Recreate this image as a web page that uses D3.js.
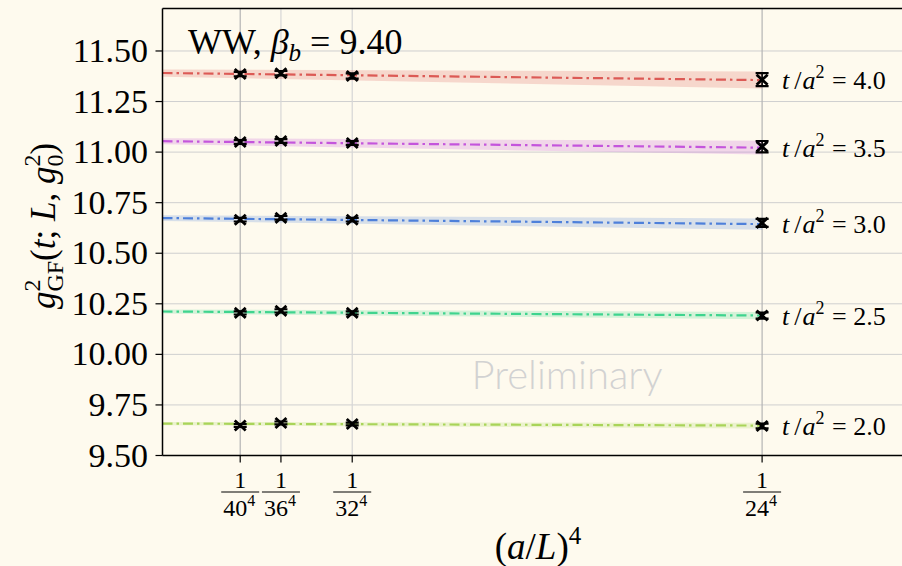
<!DOCTYPE html>
<html>
<head>
<meta charset="utf-8">
<script src="https://cdn.jsdelivr.net/npm/d3@7"></script>
<style>
  body { margin: 0; background: #fefaee; }
  svg { display: block; }
</style>
</head>
<body>
<div id="graph"></div>
<script>
// x positions are (a/L)^4
var sizes = [40, 36, 32, 24]
var flows = ['4.0', '3.5', '3.0', '2.5', '2.0']
var colors = ['#dc5a55', '#c455dc', '#4e80da', '#3fd48e', '#a9d459']

// measured g^2 per flow time, one value per L
var gsq = [
  [11.386, 11.390, 11.376, 11.358],
  [11.050, 11.055, 11.045, 11.027],
  [10.666, 10.675, 10.666, 10.650],
  [10.205, 10.215, 10.205, 10.192],
  [9.648, 9.661, 9.656, 9.646]
]
var gsqErr = [
  [0.011, 0.011, 0.013, 0.032],
  [0.009, 0.009, 0.009, 0.028],
  [0.009, 0.009, 0.009, 0.020],
  [0.008, 0.008, 0.008, 0.015],
  [0.007, 0.007, 0.007, 0.012]
]
// linear fit: value at x=0, value at x=1/24^4, band half-width at both ends
var fitStart = [11.391, 11.054, 10.674, 10.212, 9.658]
var fitEnd = [11.356, 11.022, 10.644, 10.192, 9.648]
var bandStart = [0.018, 0.015, 0.014, 0.010, 0.008]
var bandEnd = [0.042, 0.034, 0.028, 0.018, 0.014]

var yTicks = [9.5, 9.75, 10.0, 10.25, 10.5, 10.75, 11.0, 11.25, 11.5]

var SERIF = '"Liberation Serif", "Times New Roman", Times, "DejaVu Serif", serif'
var W = 902, H = 566
var svg = d3.select('#graph').append('svg').attr('width', W).attr('height', H)
  .attr('font-family', SERIF)

var x = d3.scaleLinear().domain([0, 3.75e-6]).range([162.5, 908.5])
var y = d3.scaleLinear().domain([9.5, 11.71]).range([455.5, 8.5])
var xv = sizes.map(L => 1 / Math.pow(L, 4))

svg.append('clipPath').attr('id', 'clip').append('rect')
  .attr('x', x.range()[0]).attr('y', y.range()[1])
  .attr('width', x.range()[1] - x.range()[0]).attr('height', y.range()[0] - y.range()[1])

var plot = svg.append('g').attr('clip-path', 'url(#clip)')

// grid
plot.selectAll('line.hgrid').data(yTicks).join('line')
  .attr('x1', x.range()[0]).attr('x2', x.range()[1])
  .attr('y1', d => y(d)).attr('y2', d => y(d))
  .attr('stroke', '#cfcfcf').attr('stroke-width', 1)
plot.selectAll('line.vgrid').data(xv).join('line')
  .attr('x1', d => x(d)).attr('x2', d => x(d))
  .attr('y1', y.range()[0]).attr('y2', y.range()[1])
  .attr('stroke', (d, i) => (i == 0 || i == 3) ? '#b4b4b4' : '#d6d6d6').attr('stroke-width', 1.2)

// watermark
plot.append('text').text('Preliminary')
  .attr('x', 567).attr('y', 389).attr('text-anchor', 'middle')
  .attr('font-family', 'Lato, "Open Sans", sans-serif').style('font-weight', 300)
  .style('font-size', '40px').style('fill', '#d2d2d2')

var xEnd = xv[3]
flows.forEach(function(f, i){
  var c = colors[i]
  var lineAt = t => fitStart[i] + (fitEnd[i] - fitStart[i]) * t / xEnd
  var bandAt = t => bandStart[i] + (bandEnd[i] - bandStart[i]) * t / xEnd
  var xs = [0, xEnd]

  plot.append('path')
    .datum(xs)
    .attr('d', d3.area().x(d => x(d)).y0(d => y(lineAt(d) - bandAt(d))).y1(d => y(lineAt(d) + bandAt(d))))
    .attr('fill', c).attr('fill-opacity', 0.22)

  plot.append('path')
    .datum(xs)
    .attr('d', d3.line().x(d => x(d)).y(d => y(lineAt(d))))
    .attr('stroke', c).attr('stroke-width', 2.2).attr('fill', 'none')
    .attr('stroke-dasharray', '10,4,2.5,4')

  var pts = plot.append('g').selectAll('g').data(xv).join('g')
    .attr('transform', (d, j) => 'translate(' + x(d) + ',' + y(gsq[i][j]) + ')')
  pts.append('line')
    .attr('y1', (d, j) => y(gsq[i][j] - gsqErr[i][j]) - y(gsq[i][j]))
    .attr('y2', (d, j) => y(gsq[i][j] + gsqErr[i][j]) - y(gsq[i][j]))
    .attr('stroke', '#000').attr('stroke-width', 1.6)
  ;[-1, 1].forEach(function(s){
    pts.append('line')
      .attr('x1', -6.5).attr('x2', 6.5)
      .attr('y1', (d, j) => y(gsq[i][j] + s * gsqErr[i][j]) - y(gsq[i][j]))
      .attr('y2', (d, j) => y(gsq[i][j] + s * gsqErr[i][j]) - y(gsq[i][j]))
      .attr('stroke', '#000').attr('stroke-width', 2.2)
  })
  pts.append('path').attr('d', 'M-5.5,-5L5.5,5M-5.5,5L5.5,-5')
    .attr('stroke', '#000').attr('stroke-width', 2.8)

  // right-hand label
  var lab = svg.append('text')
    .attr('x', 782).attr('y', y(fitEnd[i]) + 9)
    .style('font-size', '26px')
  lab.append('tspan').text('t').style('font-style', 'italic')
  lab.append('tspan').text('/').attr('dx', 5)
  lab.append('tspan').text('a').style('font-style', 'italic').attr('dx', 1)
  lab.append('tspan').text('2').style('font-size', '18px').attr('dy', -11)
  lab.append('tspan').text(' = ' + f).attr('dy', 11).attr('dx', 1)
})

// spines
svg.append('line').attr('x1', x.range()[0]).attr('x2', W)
  .attr('y1', y.range()[1]).attr('y2', y.range()[1]).attr('stroke', '#000').attr('stroke-width', 1.5)
svg.append('line').attr('x1', x.range()[0]).attr('x2', W)
  .attr('y1', y.range()[0]).attr('y2', y.range()[0]).attr('stroke', '#000').attr('stroke-width', 1.5)
svg.append('line').attr('x1', x.range()[0]).attr('x2', x.range()[0])
  .attr('y1', y.range()[1]).attr('y2', y.range()[0]).attr('stroke', '#000').attr('stroke-width', 1.5)

// y axis
var yAx = svg.append('g')
yAx.selectAll('line').data(yTicks).join('line')
  .attr('x1', x.range()[0] - 7).attr('x2', x.range()[0])
  .attr('y1', d => y(d)).attr('y2', d => y(d)).attr('stroke', '#000').attr('stroke-width', 1.2)
yAx.selectAll('text').data(yTicks).join('text')
  .attr('x', 148).attr('y', d => y(d) + 11).attr('text-anchor', 'end')
  .style('font-size', '34px').text(d => d3.format('.2f')(d))

// x axis: fraction labels
var xAx = svg.append('g')
xAx.selectAll('line').data(xv).join('line')
  .attr('x1', d => x(d)).attr('x2', d => x(d))
  .attr('y1', y.range()[0]).attr('y2', y.range()[0] + 7).attr('stroke', '#000').attr('stroke-width', 1.2)
var fr = xAx.selectAll('g').data(xv).join('g').attr('transform', d => 'translate(' + x(d) + ',0)')
fr.append('text').text('1').attr('y', 488).attr('text-anchor', 'middle').style('font-size', '24px')
fr.append('line').attr('x1', -19).attr('x2', 19).attr('y1', 492).attr('y2', 492)
  .attr('stroke', '#000').attr('stroke-width', 1.2)
var den = fr.append('text').attr('y', 516).attr('x', -1).attr('text-anchor', 'middle').style('font-size', '24px')
den.append('tspan').text((d, j) => sizes[j])
den.append('tspan').text('4').style('font-size', '16px').attr('dy', -10)

// x label
var xl = svg.append('text').attr('x', 538).attr('y', 559).attr('text-anchor', 'middle').style('font-size', '37px')
xl.append('tspan').text('(')
xl.append('tspan').text('a').style('font-style', 'italic')
xl.append('tspan').text('/')
xl.append('tspan').text('L').style('font-style', 'italic')
xl.append('tspan').text(')')
xl.append('tspan').text('4').style('font-size', '25px').attr('dy', -15)

// y label
var yl = svg.append('text').attr('transform', 'translate(55,226) rotate(-90)')
  .attr('text-anchor', 'middle').style('font-size', '35px')
yl.append('tspan').text('g').style('font-style', 'italic')
yl.append('tspan').text('2').style('font-size', '24px').attr('dy', -15)
yl.append('tspan').text('GF').style('font-size', '24px').attr('dx', -12).attr('dy', 23)
yl.append('tspan').text('(').attr('dy', -8)
yl.append('tspan').text('t').style('font-style', 'italic')
yl.append('tspan').text('; ')
yl.append('tspan').text('L').style('font-style', 'italic')
yl.append('tspan').text(', ')
yl.append('tspan').text('g').style('font-style', 'italic')
yl.append('tspan').text('2').style('font-size', '24px').attr('dy', -15)
yl.append('tspan').text('0').style('font-size', '24px').attr('dx', -12).attr('dy', 23)
yl.append('tspan').text(')').attr('dy', -8)

// title
var tl = svg.append('text').attr('x', 188).attr('y', 54).style('font-size', '36px')
tl.append('tspan').text('WW, ')
tl.append('tspan').text('β').style('font-style', 'italic')
tl.append('tspan').text('b').style('font-style', 'italic').style('font-size', '25px').attr('dy', 7)
tl.append('tspan').text(' = 9.40').attr('dy', -7)
</script>
</body>
</html>
